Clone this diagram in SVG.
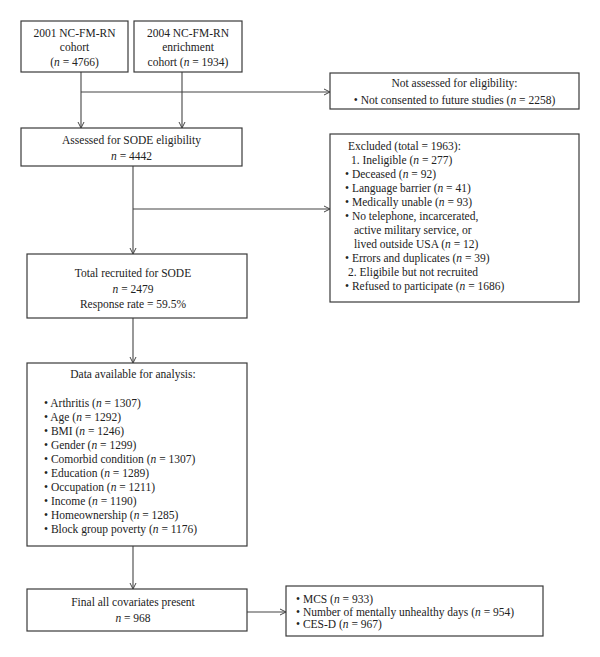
<svg xmlns="http://www.w3.org/2000/svg" width="600" height="657" viewBox="0 0 600 657">
<style>
.box{fill:#fff;stroke:#3a3a3a;stroke-width:1.2}
.ln{fill:none;stroke:#444;stroke-width:1.1}
text{font-family:"Liberation Serif","Times New Roman",serif;font-size:11.5px;fill:#222}
.c{text-anchor:middle}
.i{font-style:italic}
</style>
<defs>
<marker id="ah" markerWidth="8" markerHeight="8" refX="7" refY="4" orient="auto" markerUnits="userSpaceOnUse">
<path d="M1,1 L7,4 L1,7" fill="none" stroke="#444" stroke-width="1"/>
</marker>
</defs>
<rect width="600" height="657" fill="#fff"/>
<g id="connectors">
<line class="ln" x1="81" y1="72" x2="81" y2="128" marker-end="url(#ah)"/>
<line class="ln" x1="182" y1="72" x2="182" y2="128" marker-end="url(#ah)"/>
<line class="ln" x1="81" y1="92" x2="330" y2="92" marker-end="url(#ah)"/>
<line class="ln" x1="133" y1="166" x2="133" y2="254" marker-end="url(#ah)"/>
<line class="ln" x1="133" y1="209" x2="330" y2="209" marker-end="url(#ah)"/>
<line class="ln" x1="133" y1="318" x2="133" y2="363" marker-end="url(#ah)"/>
<line class="ln" x1="133" y1="546" x2="133" y2="589" marker-end="url(#ah)"/>
<line class="ln" x1="247" y1="612" x2="286" y2="612" marker-end="url(#ah)"/>
</g>
<g id="cohort2001">
<rect class="box" x="21" y="21" width="107" height="51"/>
<text class="c" x="74.5" y="37">2001 NC-FM-RN</text>
<text class="c" x="74.5" y="51">cohort</text>
<text class="c" x="74.5" y="66">(<tspan class="i">n</tspan> = 4766)</text>
</g>
<g id="cohort2004">
<rect class="box" x="134" y="21" width="108" height="51"/>
<text class="c" x="188" y="37">2004 NC-FM-RN</text>
<text class="c" x="188" y="51">enrichment</text>
<text class="c" x="188" y="66">cohort (<tspan class="i">n</tspan> = 1934)</text>
</g>
<g id="notassessed">
<rect class="box" x="330" y="73" width="249" height="36"/>
<text class="c" x="454.5" y="87">Not assessed for eligibility:</text>
<text class="c" x="454.5" y="104">• Not consented to future studies (<tspan class="i">n</tspan> = 2258)</text>
</g>
<g id="assessed">
<rect class="box" x="21" y="128" width="221" height="38"/>
<text class="c" x="131.5" y="144">Assessed for SODE eligibility</text>
<text class="c" x="131.5" y="160"><tspan class="i">n</tspan> = 4442</text>
</g>
<g id="excluded">
<rect class="box" x="330" y="134" width="249" height="168"/>
<text x="348" y="150">Excluded (total = 1963):</text>
<text x="351" y="164">1. Ineligible (<tspan class="i">n</tspan> = 277)</text>
<text x="345" y="178">• Deceased (<tspan class="i">n</tspan> = 92)</text>
<text x="345" y="192">• Language barrier (<tspan class="i">n</tspan> = 41)</text>
<text x="345" y="206">• Medically unable (<tspan class="i">n</tspan> = 93)</text>
<text x="345" y="220">• No telephone, incarcerated,</text>
<text x="354" y="234">active military service, or</text>
<text x="354" y="248">lived outside USA (<tspan class="i">n</tspan> = 12)</text>
<text x="345" y="262">• Errors and duplicates (<tspan class="i">n</tspan> = 39)</text>
<text x="348" y="276">2. Eligibile but not recruited</text>
<text x="345" y="290">• Refused to participate (<tspan class="i">n</tspan> = 1686)</text>
</g>
<g id="recruited">
<rect class="box" x="27" y="254" width="220" height="64"/>
<text class="c" x="133" y="277">Total recruited for SODE</text>
<text class="c" x="133" y="293"><tspan class="i">n</tspan> = 2479</text>
<text class="c" x="133" y="308">Response rate = 59.5%</text>
</g>
<g id="dataavailable">
<rect class="box" x="27" y="363" width="220" height="183"/>
<text class="c" x="133" y="378">Data available for analysis:</text>
<text x="44" y="407">• Arthritis (<tspan class="i">n</tspan> = 1307)</text>
<text x="44" y="421">• Age (<tspan class="i">n</tspan> = 1292)</text>
<text x="44" y="435">• BMI (<tspan class="i">n</tspan> = 1246)</text>
<text x="44" y="449">• Gender (<tspan class="i">n</tspan> = 1299)</text>
<text x="44" y="463">• Comorbid condition (<tspan class="i">n</tspan> = 1307)</text>
<text x="44" y="477">• Education (<tspan class="i">n</tspan> = 1289)</text>
<text x="44" y="491">• Occupation (<tspan class="i">n</tspan> = 1211)</text>
<text x="44" y="505">• Income (<tspan class="i">n</tspan> = 1190)</text>
<text x="44" y="519">• Homeownership (<tspan class="i">n</tspan> = 1285)</text>
<text x="44" y="533">• Block group poverty (<tspan class="i">n</tspan> = 1176)</text>
</g>
<g id="final">
<rect class="box" x="27" y="589" width="220" height="42"/>
<text class="c" x="133" y="606">Final all covariates present</text>
<text class="c" x="133" y="622"><tspan class="i">n</tspan> = 968</text>
</g>
<g id="outcomes">
<rect class="box" x="286" y="586" width="257" height="50"/>
<text x="296" y="603">• MCS (<tspan class="i">n</tspan> = 933)</text>
<text x="296" y="616">• Number of mentally unhealthy days (<tspan class="i">n</tspan> = 954)</text>
<text x="296" y="628">• CES-D (<tspan class="i">n</tspan> = 967)</text>
</g>
</svg>
